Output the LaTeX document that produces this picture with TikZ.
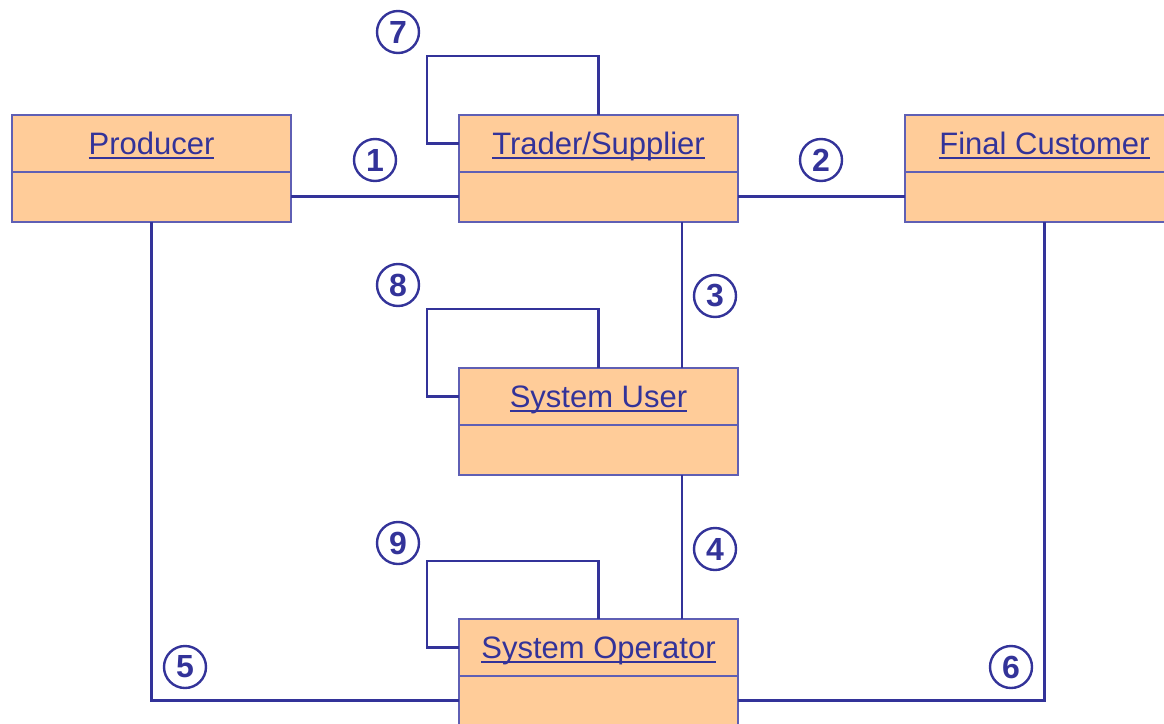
\documentclass[tikz,border=0pt]{standalone}
\usepackage{fontspec}
\setmainfont{Liberation Sans}
\usetikzlibrary{calc}
\definecolor{ink}{RGB}{51,51,153}
\definecolor{edge}{RGB}{95,95,180}
\definecolor{peach}{RGB}{255,204,153}
% underlined title with a fixed rule position below the baseline
\newcommand\ulabel[1]{\setbox0\hbox{#1}\rlap{\rule[-4pt]{\wd0}{2pt}}\box0}
% class-style box: peach rectangle with a title compartment
\newcommand\umlbox[4]{%
  \node[box] (#1) at (#2,#3) {};
  \coordinate (#1-up) at ($(#1.north)+(0,28.5)$);
  \coordinate (#1-lo) at ($(#1.south)+(0,-25.5)$);
  \draw[divider] ($(#1.north west)+(0,57)$) -- ($(#1.north east)+(0,57)$);
  \node[title] (#1-t) at ($(#1-up)+(0,11)$) {\ulabel{#4}};
}
\begin{document}
\begin{tikzpicture}[x=1pt,y=-1pt,
  box/.style={draw=edge, line width=1.3pt, fill=peach, minimum width=279pt,
    minimum height=107pt, inner sep=0pt, outer sep=0pt, anchor=north west},
  divider/.style={draw=edge, line width=1.3pt},
  title/.style={anchor=base, inner sep=0pt, text=ink, font=\fontsize{31}{36}\selectfont},
  conn/.style={draw=ink, line width=2.6pt},
  num/.style={circle, draw=ink, line width=2.4pt, minimum size=42pt, inner sep=0pt,
    text=ink, font=\fontsize{32}{34}\selectfont\bfseries}]
\useasboundingbox (0,0) rectangle (1164,723);

\umlbox{prod}{12}{115}{Producer}
\umlbox{trad}{459}{115}{Trader/Supplier}
\umlbox{cust}{905}{115}{Final Customer}
\umlbox{user}{459}{368}{System User}
\umlbox{op}{459}{619}{System Operator}

% 1 and 2: horizontal links
\draw[conn] (prod.east |- prod-lo) -- (trad.west |- prod-lo);
\draw[conn] (trad.east |- trad-lo) -- (cust.west |- trad-lo);
% 3 and 4: vertical links
\coordinate (v3) at ($(trad.south west)+(223,0)$);
\draw[conn] (v3) -- (v3 |- user.north);
\coordinate (v4) at ($(user.south west)+(223,0)$);
\draw[conn] (v4) -- (v4 |- op.north);
% 5 and 6: links to the operator
\draw[conn] (prod.south) |- (op.west |- op-lo);
\draw[conn] (cust.south) |- (op.east |- op-lo);
% 7, 8, 9: self loops
\draw[conn] (trad.west |- trad-up) -- ++(-32,0) |- ($(trad.north)+(0,-59)$) -- (trad.north);
\draw[conn] (user.west |- user-up) -- ++(-32,0) |- ($(user.north)+(0,-59)$) -- (user.north);
\draw[conn] (op.west |- op-up) -- ++(-32,0) |- ($(op.north)+(0,-58)$) -- (op.north);

% numbered markers
\node[num] (n1) at (375,160) {1};
\node[num] (n2) at (821,160) {2};
\node[num] (n3) at (715,296) {3};
\node[num] (n4) at (715,549) {4};
\node[num] (n5) at (185,667) {5};
\node[num] (n6) at (1011,667) {6};
\node[num] (n7) at (398,32) {7};
\node[num] (n8) at (398,285) {8};
\node[num] (n9) at (398,543) {9};
\end{tikzpicture}
\end{document}
